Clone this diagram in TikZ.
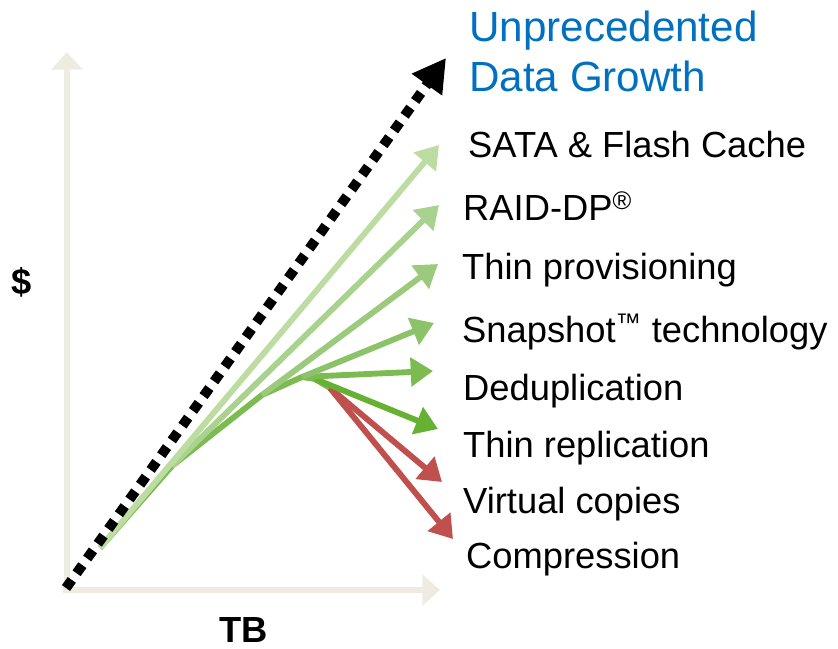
\documentclass[tikz,border=0pt]{standalone}
\usepackage{fontspec}
\setmainfont{Liberation Sans}
\usetikzlibrary{arrows.meta}
\definecolor{axisgrey}{HTML}{EEEBE0}
\definecolor{growthblue}{HTML}{0070C0}
\definecolor{gA}{HTML}{BCDCA2}
\definecolor{gB}{HTML}{AAD28F}
\definecolor{gC}{HTML}{9CCA7D}
\definecolor{gD}{HTML}{8CC36A}
\definecolor{gE}{HTML}{7CBB50}
\definecolor{gF}{HTML}{66B032}
\definecolor{redfix}{HTML}{C0504D}
\tikzset{
  axis/.style={axisgrey, line width=5pt, -{Triangle[length=15pt,width=26pt]}},
  feature/.style={line width=5pt, -{Triangle[length=19pt,width=24pt]}},
  label/.style={anchor=base west, inner sep=0pt, font=\fontsize{31}{36}\selectfont},
}

\begin{document}
\begin{tikzpicture}[x=0.03cm, y=-0.03cm]
    \useasboundingbox (0,0) rectangle (838,649);
    % axes
    \coordinate (corner) at (67,590);
    \coordinate (ytop) at (67,52);
    \coordinate (xend) at (440,590);
    \draw[axis] (corner) -- (ytop);
    \draw[axis] ([xshift=-3pt]corner) -- (xend);
    \node[font=\bfseries\fontsize{31}{36}\selectfont] (dollar) at (22,282) {\$};
    \node[label, font=\bfseries\fontsize{31}{36}\selectfont] (tb) at (219,642) {TB};

    % labels
    \node[label, growthblue, font=\fontsize{36}{43}\selectfont, align=left] (growth) at (469,92) {Unprecedented\\Data Growth};
    \node[label] (sata) at (468,158) {SATA \& Flash Cache};
    \node[label] (raid) at (463,220) {RAID-DP\textsuperscript{\textregistered}};
    \node[label] (thinprov) at (462,279) {Thin provisioning};
    \node[label] (snap) at (462,342) {Snapshot\textsuperscript{\texttrademark} technology};
    \node[label] (dedup) at (463,400) {Deduplication};
    \node[label] (thinrep) at (463,457) {Thin replication};
    \node[label] (vcopies) at (463,513) {Virtual copies};
    \node[label] (compress) at (466,568) {Compression};

    % branch points
    \coordinate (origin) at (100,548);
    \coordinate (b1) at (172,466);
    \coordinate (b2) at (262,395);
    \coordinate (b3) at (302,377);
    \coordinate (b4) at (315,379);
    \coordinate (b5) at (330,388);
    % arrow tips
    \coordinate (satatip) at (439,145);
    \coordinate (raidtip) at (439,205);
    \coordinate (thinprovtip) at (438,264);
    \coordinate (snaptip) at (434,323);
    \coordinate (deduptip) at (433,371);
    \coordinate (thinreptip) at (438,429);
    \coordinate (vcopiestip) at (442,482);
    \coordinate (compresstip) at (453,539);

    % arrows
    \draw[gE, line width=5pt] (origin) -- (b1) -- (b2) -- (b3) -- (b4) -- (b5);
    \draw[feature, redfix] (b5) -- (compresstip);
    \draw[feature, redfix] (b5) -- (vcopiestip);
    \draw[feature, gF] (b4) -- (thinreptip);
    \draw[feature, gE] (b3) -- (deduptip);
    \draw[feature, gD] (b3) -- (snaptip);
    \draw[feature, gC] (b2) -- (thinprovtip);
    \draw[feature, gB] (b1) -- (raidtip);
    \draw[feature, gA] (origin) -- (satatip);

    % growth line
    \coordinate (dstart) at (66,588);
    \coordinate (dend) at (446,58);
    \draw[line width=8.5pt, dash pattern=on 8.5pt off 7pt, -{Triangle[length=28pt,width=30pt]}] (dstart) -- (dend);
\end{tikzpicture}
\end{document}
